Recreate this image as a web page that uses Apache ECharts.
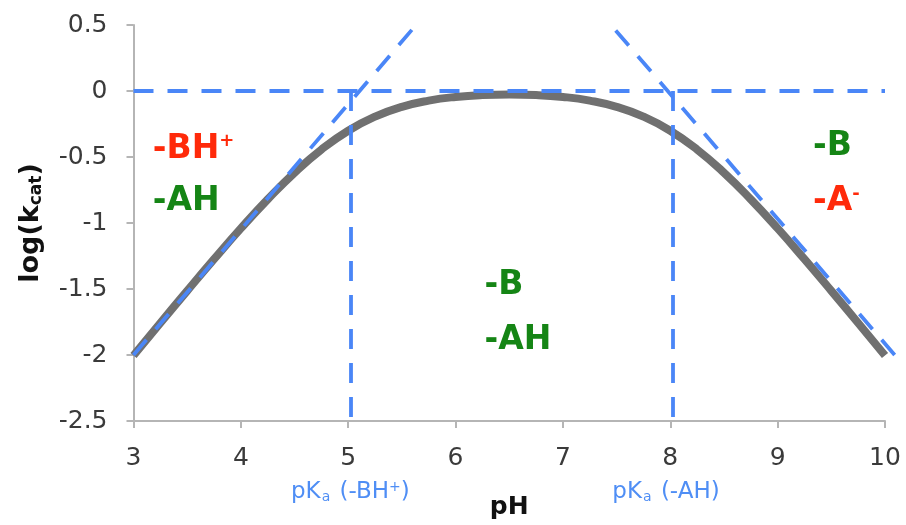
<!DOCTYPE html>
<html><head><meta charset="utf-8">
<script src="https://cdn.jsdelivr.net/npm/echarts@6/dist/echarts.min.js"></script>
<style>html,body{margin:0;padding:0;background:#fff}#c{width:906px;height:525px}</style>
</head><body><div id="c"></div>
<script>
// pH values and log(kcat) curve
const phValues = [3,3.25,3.5,3.75,4,4.25,4.5,4.75,5,5.25,5.5,5.75,6,6.25,6.5,6.75,7,7.25,7.5,7.75,8,8.25,8.5,8.75,9,9.25,9.5,9.75,10];
const logKcat = [-2.004,-1.758,-1.514,-1.274,-1.041,-0.821,-0.619,-0.444,-0.301,-0.194,-0.120,-0.073,-0.045,-0.031,-0.027,-0.031,-0.045,-0.073,-0.120,-0.194,-0.301,-0.444,-0.619,-0.821,-1.041,-1.274,-1.514,-1.758,-2.004];
// dashed guide lines (pH, log kcat)
const leftAsymptote = [[3,-2.0],[5.6,0.47]];
const rightAsymptote = [[10.09,-2.0],[7.48,0.47]];
const plateau = [[3,0],[10,0]];
const pKa1Line = [[5.02,0],[5.02,-2.5]];
const pKa2Line = [[8.02,0],[8.02,-2.5]];
// annotation texts
const groupLabels = [
  {text:'-BH{sup|+}', x:3.18, y:-0.44, color:'red'},
  {text:'-AH', x:3.18, y:-0.84, color:'green'},
  {text:'-B', x:6.27, y:-1.47, color:'green'},
  {text:'-AH', x:6.27, y:-1.89, color:'green'},
  {text:'-B', x:9.33, y:-0.42, color:'green'},
  {text:'-A{sup|-}', x:9.33, y:-0.84, color:'red'}
];
const pKaLabels = [
  {text:'pK{sub|a} (-BH{sup|+})', x:5.02, y:-3.04},
  {text:'pK{sub|a} (-AH)', x:7.96, y:-3.04}
];
const xTicks = {min:3, max:10, interval:1};
const yTicks = {min:-2.5, max:0.5, interval:0.5};

const FONT = 'DejaVu Sans';
const BLUE = '#4a86f7';
const COLORS = {red:'#ff2a0a', green:'#158515'};
const chart = echarts.init(document.getElementById('c'), null, {renderer:'canvas'});
const guides = [plateau, leftAsymptote, rightAsymptote, pKa1Line, pKa2Line];
chart.setOption({
  animation:false,
  grid:{left:133.5, right:21, top:25, bottom:102},
  xAxis:{type:'value', min:xTicks.min, max:xTicks.max, interval:xTicks.interval,
    name:'pH', nameLocation:'middle', nameGap:74,
    nameTextStyle:{fontFamily:FONT, fontWeight:'bold', fontSize:25, color:'#111'},
    axisLine:{onZero:false, lineStyle:{color:'#b5b5b5', width:2}},
    axisTick:{show:true, length:7, lineStyle:{color:'#b5b5b5', width:2}},
    axisLabel:{fontFamily:FONT, fontSize:25, color:'#3a3a3a', margin:25},
    splitLine:{show:false}},
  yAxis:{type:'value', min:yTicks.min, max:yTicks.max, interval:yTicks.interval,
    name:'log(k{sub|cat})', nameLocation:'middle', nameGap:88,
    nameTextStyle:{fontFamily:FONT, fontWeight:'bold', fontSize:27, color:'#111',
      rich:{sub:{fontFamily:FONT, fontWeight:'bold', fontSize:17, verticalAlign:'bottom', padding:[12,0,0,0], color:'#111'}}},
    axisLine:{show:true, onZero:false, lineStyle:{color:'#b5b5b5', width:2}},
    axisTick:{show:true, length:7, lineStyle:{color:'#b5b5b5', width:2}},
    axisLabel:{fontFamily:FONT, fontSize:25, color:'#3a3a3a', margin:26},
    splitLine:{show:false}},
  series:[
    {type:'line', data:phValues.map((p,i)=>[p,logKcat[i]]), symbol:'none', smooth:0.5, z:2,
      lineStyle:{color:'#707070', width:8}},
    {type:'lines', coordinateSystem:'cartesian2d', clip:false, silent:true, z:3,
      data:guides.map(g=>({coords:g})),
      lineStyle:{color:BLUE, width:3.8, type:[20,14], opacity:1}},
    {type:'scatter', symbolSize:0, clip:false, silent:true, z:5, itemStyle:{opacity:1},
      data:groupLabels.map(g=>({value:[g.x,g.y], label:{show:true, position:'right', distance:0, opacity:1,
        formatter:g.text, fontFamily:FONT, fontWeight:'bold', fontSize:33, color:COLORS[g.color],
        rich:{sup:{fontFamily:FONT, fontWeight:'bold', fontSize:18, color:COLORS[g.color], verticalAlign:'top', padding:[0,0,14,0]}}}}))},
    {type:'scatter', symbolSize:0, clip:false, silent:true, z:5, itemStyle:{opacity:1},
      data:pKaLabels.map(g=>({value:[g.x,g.y], label:{show:true, position:'inside', opacity:1,
        formatter:g.text, fontFamily:FONT, fontSize:23, color:'#4f8ef5',
        rich:{sub:{fontFamily:FONT, fontSize:14, color:'#4f8ef5', padding:[10,2,0,1]},
              sup:{fontFamily:FONT, fontSize:14, color:'#4f8ef5', padding:[0,0,10,0]}}}}))}
  ]
});
</script></body></html>
